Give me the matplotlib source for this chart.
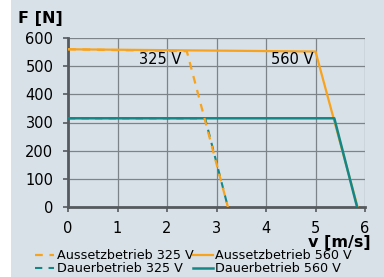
import matplotlib.pyplot as plt
from matplotlib.patches import Rectangle

# data
v_auss_325 = [0, 2.4, 3.23]
f_auss_325 = [560, 553, 0]
v_dauer_325 = [0, 2.77, 3.23]
f_dauer_325 = [315, 315, 0]
v_auss_560 = [0, 5.0, 5.85]
f_auss_560 = [560, 552, 0]
v_dauer_560 = [0, 5.38, 5.84]
f_dauer_560 = [315, 315, 0]

x_ticks = [0, 1, 2, 3, 4, 5, 6]
y_ticks = [0, 100, 200, 300, 400, 500, 600]

orange = "#f8a31d"
teal = "#138788"
bg = "#d8e1e8"
grid_c = "#7c8389"

fig = plt.figure(figsize=(3.84, 2.77), dpi=100, facecolor=bg)
fig.patches.append(Rectangle((0, 0), 11 / 384, 1, transform=fig.transFigure,
                             facecolor="white", edgecolor="none", zorder=0))

ax = fig.add_axes([68 / 384, 1 - 207 / 277, 297 / 384, 169 / 277])
ax.set_facecolor(bg)

dash = (0, (3.5, 3))
ax.plot(v_auss_560, f_auss_560, color=orange, lw=1.6, label="Aussetzbetrieb 560 V", zorder=3)
ax.plot(v_dauer_325, f_dauer_325, color=teal, lw=1.5, ls=dash, label="Dauerbetrieb 325 V", zorder=3)
ax.plot(v_dauer_560, f_dauer_560, color=teal, lw=1.8, label="Dauerbetrieb 560 V", zorder=4)
ax.plot(v_auss_325, f_auss_325, color=orange, lw=1.6, ls=dash, label="Aussetzbetrieb 325 V", zorder=5)

ax.set_xlim(0, 6)
ax.set_ylim(0, 600)
ax.set_xticks(x_ticks)
ax.set_yticks(y_ticks)
ax.grid(True, color=grid_c, lw=0.9)
ax.set_axisbelow(True)
for s in ["top", "right"]:
    ax.spines[s].set_visible(False)
for s in ["left", "bottom"]:
    ax.spines[s].set_color("#555a5e")
    ax.spines[s].set_linewidth(2)
ax.tick_params(colors="#555a5e", labelcolor="black", labelsize=10.5,
               length=3.5, width=1.2)
ax.tick_params(axis="y", pad=7)
ax.tick_params(axis="x", pad=6.5)

ax.text(2.3, 525, "325 V", fontsize=10.5, ha="right", va="center")
ax.text(4.95, 525, "560 V", fontsize=10.5, ha="right", va="center")

fig.text(18 / 384, 1 - 19 / 277, "F [N]", fontsize=11.5, fontweight="bold", va="center")
fig.text(371 / 384, 1 - 243 / 277, "v [m/s]", fontsize=11.5, fontweight="bold",
         ha="right", va="center")

h, l = ax.get_legend_handles_labels()
order = [3, 1, 0, 2]
fig.legend([h[i] for i in order], [l[i] for i in order], ncol=2, frameon=False,
           loc="upper left", bbox_to_anchor=(35 / 384, 1 - 249 / 277),
           fontsize=9.2, handlelength=1.5, handletextpad=0.2, columnspacing=0.0,
           labelspacing=0.0, borderpad=0, borderaxespad=0)

fig.savefig("out.png", dpi=100, facecolor=bg)
